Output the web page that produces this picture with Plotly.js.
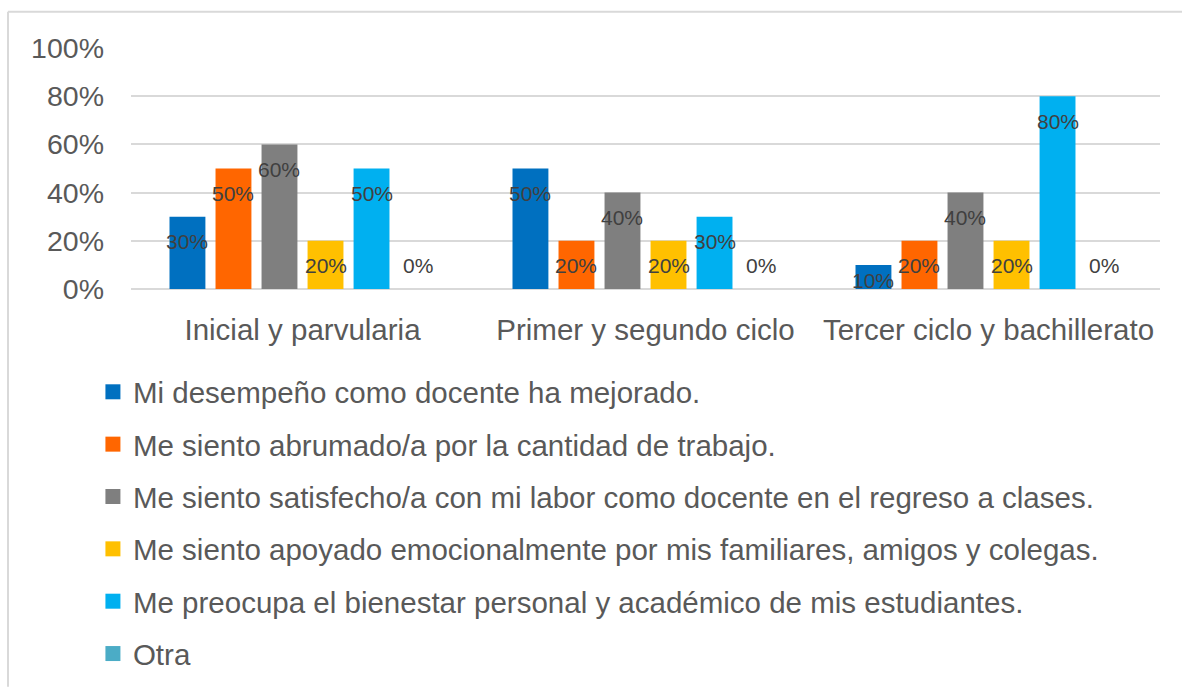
<!DOCTYPE html>
<html>
<head>
<meta charset="utf-8">
<script src="https://cdn.plot.ly/plotly-3.0.1.min.js"></script>
<style>
  html, body { margin: 0; padding: 0; background: #fff; }
  #chart { width: 1182px; height: 692px; }
</style>
</head>
<body>
<div id="chart"></div>
<script>
// ---- data ----
const categories = ["Inicial y parvularia", "Primer y segundo ciclo", "Tercer ciclo y bachillerato"];
const seriesNames = [
  "Mi desempeño como docente ha mejorado.",
  "Me siento abrumado/a por la cantidad de trabajo.",
  "Me siento satisfecho/a con mi labor como docente en el regreso a clases.",
  "Me siento apoyado emocionalmente por mis familiares, amigos y colegas.",
  "Me preocupa el bienestar personal y académico de mis estudiantes.",
  "Otra"
];
const desempeno   = [0.30, 0.50, 0.10];
const abrumado    = [0.50, 0.20, 0.20];
const satisfecho  = [0.60, 0.40, 0.40];
const apoyado     = [0.20, 0.20, 0.20];
const preocupa    = [0.50, 0.30, 0.80];
const otra        = [0.00, 0.00, 0.00];
const yTickVals   = [0, 0.2, 0.4, 0.6, 0.8, 1.0];
const yTickText   = ["0%", "20%", "40%", "60%", "80%", "100%"];

const seriesValues = [desempeno, abrumado, satisfecho, apoyado, preocupa, otra];
const colors = ["#0070C0", "#FF6600", "#7F7F7F", "#FFC000", "#00B0F0", "#4BACC6"];

const xIdx = categories.map((c, i) => i);
const bargap = 0.195;
const n = seriesValues.length;

const traces = [];
const annotations = [];
seriesValues.forEach((vals, s) => {
  traces.push({
    type: "bar",
    x: xIdx,
    y: vals,
    name: seriesNames[s],
    marker: { color: colors[s], line: { width: 0 } },
    showlegend: false,
    hoverinfo: "skip"
  });
  // legend proxy
  traces.push({
    type: "scatter",
    mode: "markers",
    x: [null], y: [null],
    name: seriesNames[s],
    legendgroup: "g" + s,
    marker: { symbol: "square", size: 15, color: colors[s] },
    showlegend: true
  });
  vals.forEach((v, i) => {
    const off = (-0.5 + (s + 0.5) / n) * (1 - bargap);
    let yshift;
    if (v >= 0.2) yshift = -25;
    else if (v > 0) yshift = -16;
    else yshift = 24;
    annotations.push({
      x: i + off, y: v, xref: "x", yref: "y",
      text: Math.round(v * 100) + "%",
      showarrow: false,
      yshift: yshift,
      yanchor: "middle",
      xanchor: "center",
      font: { family: "Liberation Sans, Arial, sans-serif", size: 21, color: "#404040" }
    });
  });
});

const layout = {
  width: 1182,
  height: 692,
  paper_bgcolor: "#ffffff",
  plot_bgcolor: "#ffffff",
  margin: { l: 131, r: 22, t: 48, b: 398, pad: 0 },
  barmode: "group",
  bargap: bargap,
  bargroupgap: 0.22,
  font: { family: "Liberation Sans, Arial, sans-serif", size: 29, color: "#595959" },
  xaxis: {
    type: "linear",
    range: [-0.5, 2.5],
    tickvals: xIdx,
    ticktext: categories,
    showgrid: false,
    zeroline: false,
    showline: false,
    ticks: "",
    ticklen: 0,
    ticklabelstandoff: 20,
    tickfont: { size: 29.5, color: "#595959" },
    fixedrange: true
  },
  yaxis: {
    range: [0, 1.0001],
    tickvals: yTickVals,
    ticktext: yTickText,
    showgrid: true,
    gridcolor: "#D9D9D9",
    gridwidth: 2,
    zeroline: true,
    zerolinecolor: "#D9D9D9",
    zerolinewidth: 2,
    showline: false,
    ticks: "",
    ticklabelstandoff: 26,
    tickfont: { size: 28.5, color: "#595959" },
    fixedrange: true
  },
  legend: {
    orientation: "v",
    x: -0.037,
    xanchor: "left",
    y: -0.32,
    yanchor: "top",
    traceorder: "grouped",
    tracegroupgap: 11,
    font: { size: 29.5, color: "#595959" },
    bgcolor: "rgba(0,0,0,0)",
    itemclick: false,
    itemdoubleclick: false
  },
  annotations: annotations
};

// outer border (chart area frame) in pixel coordinates converted to paper
const plotW = 1182 - 131 - 22, plotH = 692 - 48 - 398;
const px = v => (v - 131) / plotW;
const py = v => (692 - 398 - v) / plotH;
layout.shapes = [
  { type: "line", xref: "paper", yref: "paper", x0: px(8), x1: px(8), y0: py(11), y1: py(700), line: { color: "#D9D9D9", width: 2 } },
  { type: "line", xref: "paper", yref: "paper", x0: px(8), x1: px(1190), y0: py(11), y1: py(11), line: { color: "#D9D9D9", width: 2 } }
];

Plotly.newPlot("chart", traces, layout, { displayModeBar: false, staticPlot: true });
</script>
</body>
</html>
